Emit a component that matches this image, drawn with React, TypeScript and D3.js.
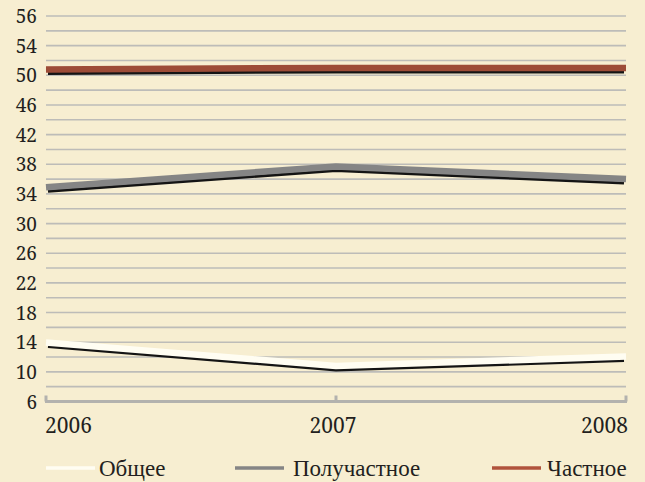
import React from "react";
import * as d3 from "d3";

const years = ["2006", "2007", "2008"];
const yTickLabels = [6, 10, 14, 18, 22, 26, 30, 34, 38, 42, 46, 50, 54, 56];
const seriesNames = ["Общее", "Получастное", "Частное"];
const obshchee = [13.96, 10.8, 12.06];
const poluchastnoe = [34.9, 37.7, 36.0];
const chastnoe = [50.8, 51.0, 51.0];
const lineColors = ["#fffdf2", "#858585", "#9d4c37"];
const legendColors = ["#fffdf2", "#858585", "#b0533c"];

const W = 645;
const H = 482;
const left = 46;
const right = 626;
const top = 16;
const bottom = 401.5;
const NUM_FONT = "'Noto Serif', 'Liberation Serif', serif";
const TXT_FONT = "'Liberation Serif', serif";

export default function App() {
  const n = yTickLabels.length;
  const yIdx = d3.scaleLinear().domain([0, n - 1]).range([bottom, top]);
  const y = d3
    .scaleLinear()
    .domain(yTickLabels)
    .range(yTickLabels.map((_, i) => yIdx(i)));
  const x = d3.scalePoint().domain(years).range([left, right]);
  const xs = d3.scalePoint().domain(years).range([left + 2, right - 2]);

  const data = [obshchee, poluchastnoe, chastnoe];
  const line = d3
    .line<number>()
    .x((_, i) => x(years[i]) as number)
    .y((d) => y(d));
  const shadowLine = d3
    .line<number>()
    .x((_, i) => xs(years[i]) as number)
    .y((d) => y(d) + 4);

  const gridYs = d3.range(0.5, n - 1 + 0.01, 0.5).map((i) => yIdx(i));

  const legendItems = [
    { lx: 46, tx: 99 },
    { lx: 235, tx: 293 },
    { lx: 492, tx: 547 },
  ];

  return (
    <svg
      width={W}
      height={H}
      style={{ position: "absolute", left: 0, top: 0 }}
    >
      <rect x={0} y={0} width={W} height={H} fill="#f7eed1" />
      {gridYs.map((gy, i) => (
        <line
          key={i}
          x1={left}
          x2={right}
          y1={gy}
          y2={gy}
          stroke="#bdbcb8"
          strokeWidth={1.6}
        />
      ))}
      <line
        x1={left - 1}
        x2={right + 1}
        y1={bottom}
        y2={bottom}
        stroke="#b3b2ae"
        strokeWidth={3}
      />
      {years.map((yr) => (
        <line
          key={yr}
          x1={x(yr)}
          x2={x(yr)}
          y1={bottom}
          y2={bottom - 6}
          stroke="#b3b2ae"
          strokeWidth={3}
        />
      ))}
      {yTickLabels.map((t) => (
        <text
          key={t}
          x={37}
          y={y(t) + 7}
          textAnchor="end"
          fontSize={19}
          fill="#231f20"
          style={{ fontFamily: NUM_FONT }}
        >
          {t}
        </text>
      ))}
      {years.map((yr, i) => (
        <text
          key={yr}
          x={i === 0 ? left - 1 : i === years.length - 1 ? right + 2 : (x(yr) as number) - 3}
          y={433}
          textAnchor={i === 0 ? "start" : i === years.length - 1 ? "end" : "middle"}
          fontSize={21}
          fill="#231f20"
          style={{ fontFamily: NUM_FONT }}
        >
          {yr}
        </text>
      ))}
      {data.map((d, k) => (
        <g key={k}>
          <path
            d={shadowLine(d) as string}
            fill="none"
            stroke="#141414"
            strokeWidth={3}
            strokeLinejoin="round"
          />
          <path
            d={line(d) as string}
            fill="none"
            stroke={lineColors[k]}
            strokeWidth={6.5}
            strokeLinejoin="round"
          />
        </g>
      ))}
      {seriesNames.map((name, k) => (
        <g key={name}>
          <line
            x1={legendItems[k].lx}
            x2={legendItems[k].lx + 49}
            y1={468}
            y2={468}
            stroke={legendColors[k]}
            strokeWidth={3.5}
          />
          <text
            x={legendItems[k].tx}
            y={475.5}
            fontSize={23}
            fill="#231f20"
            style={{ fontFamily: TXT_FONT }}
          >
            {name}
          </text>
        </g>
      ))}
    </svg>
  );
}
